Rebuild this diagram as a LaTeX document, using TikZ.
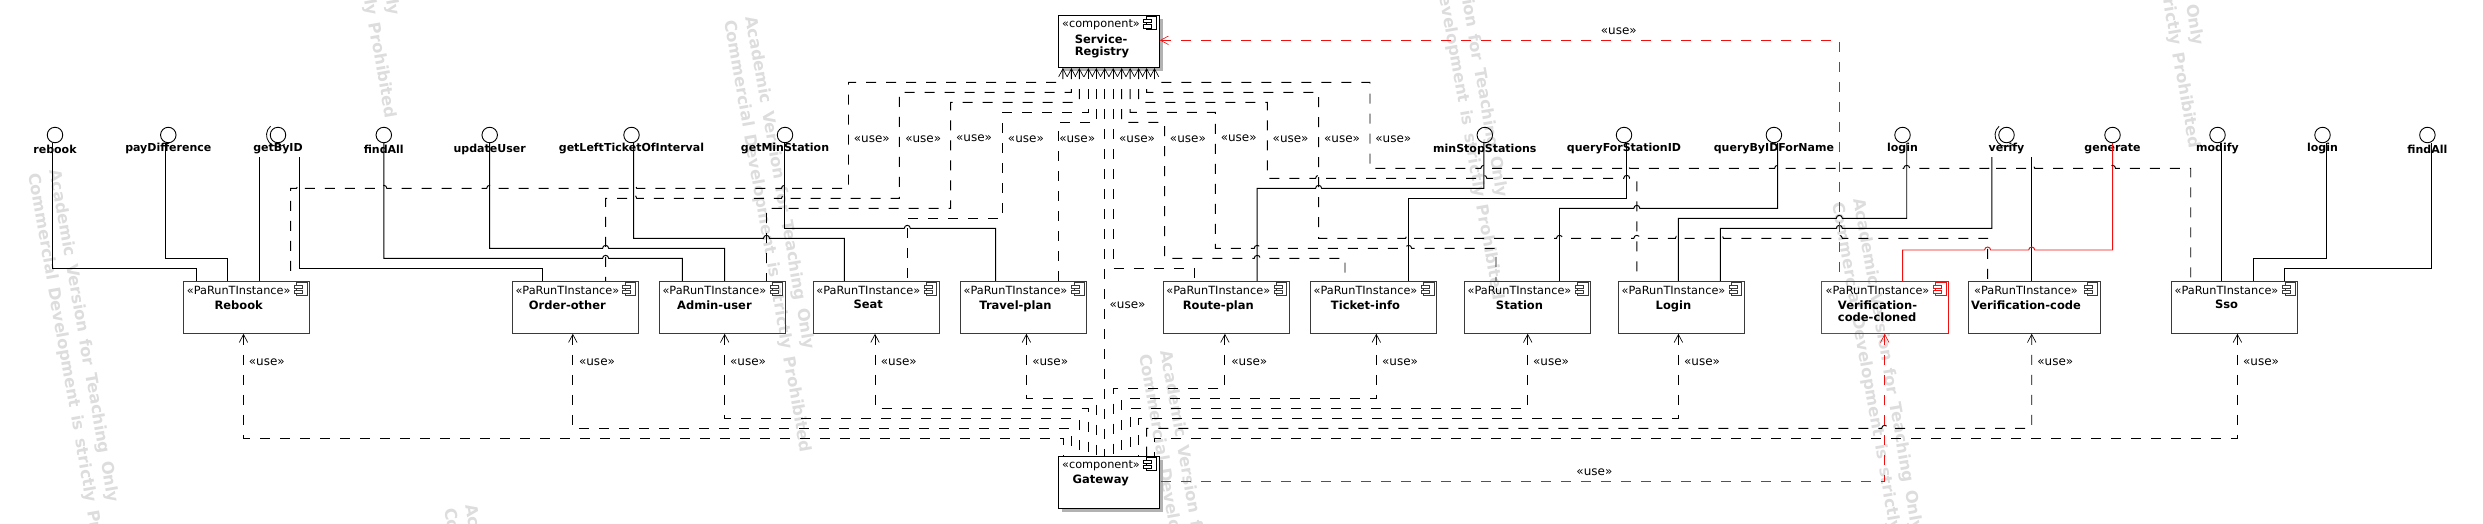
\documentclass[tikz,border=0pt]{standalone}
\usepackage{fontspec}
\setmainfont{DejaVu Sans}
\newfontfamily\wmfont[WordSpace=1.4]{DejaVu Sans}
\usetikzlibrary{arrows.meta,positioning}
\definecolor{wmgray}{HTML}{DDDDDD}
\definecolor{boxgray}{HTML}{3A3A3A}
\definecolor{umlred}{HTML}{F01010}
\tikzset{
  x=1pt,y=-1pt,
  solidlink/.style={line width=.95pt,black},
  redlink/.style={line width=.95pt,umlred},
  dep/.style={line width=.95pt,black,dash pattern=on 10pt off 10pt,{Straight Barb[length=8pt,width=8.5pt,line width=.65pt]}-},
  depred/.style={dep,umlred},
  usetag/.style={font=\fontsize{12}{13}\selectfont,inner sep=0pt},
  ifcircle/.style={circle,draw=black,line width=.9pt,minimum size=15.5pt,inner sep=0pt},
  iflabel/.style={font=\fontsize{11}{12}\selectfont\bfseries,inner sep=0pt},
  partbox/.style={rectangle,draw=#1,line width=1pt,inner sep=0pt,minimum height=52pt},
  partbox/.default=boxgray,
  compbox/.style={rectangle,draw=black,fill=white,line width=1.1pt,inner sep=0pt,minimum width=100.6pt,minimum height=52pt},
  stereo/.style={font=\fontsize{11.3}{12}\selectfont,inner sep=0pt},
  boxname/.style={font=\fontsize{11.5}{12}\selectfont\bfseries,inner sep=0pt,align=left},
  wmark/.style={font=\wmfont\fontsize{16.3}{21.5}\selectfont\bfseries,text=wmgray,inner sep=0pt,rotate=-80,anchor=north west,align=left},
}
% hops over crossed lines
\def\hopr#1#2{-- ({#1-3},#2) arc[start angle=180,end angle=0,radius=3pt]}
\def\hopl#1#2{-- ({#1+3},#2) arc[start angle=0,end angle=180,radius=3pt]}
% component icon, relative to the box's north east corner
\newcommand\compicon[2]{%
  \draw[#2,line width=.9pt] ([shift={(-13.3,1.2)}]#1.north east) rectangle ([shift={(-3.2,14.3)}]#1.north east);
  \draw[#2,line width=.9pt,fill=white] ([shift={(-16,4.2)}]#1.north east) rectangle ([shift={(-8,7.8)}]#1.north east);
  \draw[#2,line width=.9pt,fill=white] ([shift={(-16,9.4)}]#1.north east) rectangle ([shift={(-8,13)}]#1.north east);
}
% name, left, right, text centre, label, colour
\newcommand\partnode[6]{%
  \pgfmathsetmacro\pbw{#3-#2}
  \node[partbox=#6,minimum width=\pbw pt] (#1) at ({(#2+#3)/2},307.3) {};
  \node[stereo] (#1st) at (#4,290.5) {«PaRunTInstance»};
  \node[boxname,anchor=north] (#1nm) at (#4,300.2) {#5};
  \compicon{#1}{#6}
}
% name, circle x, label
\newcommand\iface[3]{%
  \node[ifcircle] (#1) at (#2,135) {};
  \node[iflabel] (#1lb) at (#2,149) {#3};
}
\newcommand\watermark[3]{%
  \node[wmark] (#1) at (#2,#3) {Academic Version for Teaching Only\\Commercial Development is strictly Prohibited};
}
\begin{document}
\begin{tikzpicture}
\useasboundingbox (0,0) rectangle (2483,523);
% watermarks
\watermark{wmA}{62}{168}
\watermark{wmB}{758}{15}
\watermark{wmC}{1173}{349}
\watermark{wmD}{1866}{197}
\watermark{wmE}{2147}{-289}
\watermark{wmF}{1451}{-137}
\watermark{wmG}{343}{-319}
\watermark{wmH}{478}{503}

% components
\fill[gray!60] (1061.7,18.6) rectangle (1162.6,70.6);
\node[compbox] (SR) at (1108.9,41.5) {};
\node[stereo] (SRst) at (1101,25) {«component»};
\node[boxname,anchor=north west] (SRnm) at (1074.6,34.6) {Service-\\Registry};
\compicon{SR}{black}
\fill[gray!60] (1061.7,459.6) rectangle (1162.6,511.6);
\node[compbox] (GW) at (1108.9,482.3) {};
\node[stereo] (GWst) at (1101,465.7) {«component»};
\node[boxname,anchor=north west] (GWnm) at (1072.5,475.2) {Gateway};
\compicon{GW}{black}

% parts
\partnode{Rebook}{183.7}{309.7}{238.7}{Rebook}{boxgray}
\partnode{Order}{512.4}{638.4}{567.4}{Order-other}{boxgray}
\partnode{Admin}{659.6}{785.6}{714.4}{Admin-user}{boxgray}
\partnode{Seat}{813}{939.6}{868.3}{Seat}{boxgray}
\partnode{Travel}{960.8}{1086.8}{1015.5}{Travel-plan}{boxgray}
\partnode{Route}{1163.5}{1289.5}{1218.3}{Route-plan}{boxgray}
\partnode{Ticket}{1310.7}{1436.7}{1365.5}{Ticket-info}{boxgray}
\partnode{Station}{1464.7}{1590.7}{1519.5}{Station}{boxgray}
\partnode{Login}{1618.8}{1744.5}{1673.5}{Login}{boxgray}
\partnode{Cloned}{1821.7}{1948.7}{1877.5}{Verification-\\code-cloned}{umlred}
\partnode{Vcode}{1968.7}{2100.4}{2026}{Verification-code}{boxgray}
\partnode{Sso}{2171.8}{2297.8}{2226.5}{Sso}{boxgray}

% interfaces
\iface{iRebook}{55}{rebook}
\iface{iPay}{168.3}{payDifference}
\iface{iGetById}{278}{getByID}
\iface{iFindA}{383.8}{findAll}
\iface{iUpdate}{489.7}{updateUser}
\iface{iLeft}{631.5}{getLeftTicketOfInterval}
\iface{iMin}{785}{getMinStation}
\iface{iStop}{1484.8}{minStopStations}
\iface{iQfs}{1624}{queryForStationID}
\iface{iQbn}{1773.9}{queryByIDForName}
\iface{iLoginA}{1902.5}{login}
\iface{iVerify}{2006.5}{verify}
\iface{iGen}{2112.5}{generate}
\iface{iModify}{2217.5}{modify}
\iface{iLoginB}{2322.5}{login}
\iface{iFindB}{2427.4}{findAll}
\draw[line width=.8pt] (iGetById) ++(130:11.5pt) arc[start angle=130,end angle=305,radius=11.5pt];
\draw[line width=.8pt] (iVerify) ++(130:11.5pt) arc[start angle=130,end angle=305,radius=11.5pt];
\coordinate (sockA) at (259.4,157);
\coordinate (sockB) at (299.6,157);
\coordinate (sockC) at (1991.8,157);
\coordinate (sockD) at (2031.7,157);

% provided / required interface links
\draw[solidlink] (52.4,0 |- iRebook.south) -- (52.4,268.3) -- (196.4,268.3) -- (196.4,0 |- Rebook.north);
\draw[solidlink] (165.7,0 |- iPay.south) -- (165.7,258.3) -- (227.6,258.3) -- (227.6,0 |- Rebook.north);
\draw[solidlink] (sockA) -- (sockA |- Rebook.north);
\draw[solidlink] (sockB) -- (299.6,268.3) -- (542.6,268.3) -- (542.6,0 |- Order.north);
\draw[solidlink] (iFindA.south) -- (383.8,258.3) \hopr{605.6}{258.3} -- (682.4,258.3) -- (682.4,0 |- Admin.north);
\draw[solidlink] (iUpdate.south) -- (489.7,248.3) \hopr{605.6}{248.3} -- (724.7,248.3) -- (724.7,0 |- Admin.north);
\draw[solidlink] (633.7,0 |- iLeft.south) -- (633.7,238.3) \hopr{766.5}{238.3} -- (844.3,238.3) -- (844.3,0 |- Seat.north);
\draw[solidlink] (784.5,0 |- iMin.south) -- (784.5,228.3) \hopr{907.3}{228.3} -- (995.7,228.3) -- (995.7,0 |- Travel.north);
\draw[solidlink] (1483.8,0 |- iStop.south) -- (1483.8,188.3) \hopl{1318.6}{188.3} -- (1257.2,188.3) -- (1257.2,0 |- Route.north);
\draw[solidlink] (1626.7,0 |- iQfs.south) -- (1626.7,198.3) -- (1408.6,198.3) -- (1408.6,0 |- Ticket.north);
\draw[solidlink] (1777.6,0 |- iQbn.south) -- (1777.6,208.3) \hopl{1636.8}{208.3} -- (1559.5,208.3) -- (1559.5,0 |- Station.north);
\draw[solidlink] (1906.7,0 |- iLoginA.south) -- (1906.7,218.3) \hopl{1839.3}{218.3} -- (1678.4,218.3) -- (1678.4,0 |- Login.north);
\draw[solidlink] (sockC) -- (1991.8,228.3) \hopl{1839.3}{228.3} -- (1720.4,228.3) -- (1720.4,0 |- Login.north);
\draw[solidlink] (sockD) -- (sockD |- Vcode.north);
\draw[redlink] (iGen.south) -- (2112.5,250) \hopl{2031.7}{250} \hopl{1987.6}{250} -- (1902.5,250) -- (1902.5,0 |- Cloned.north);
\draw[solidlink] (2221.7,0 |- iModify.south) -- (2221.7,0 |- Sso.north);
\draw[solidlink] (2326.7,0 |- iLoginB.south) -- (2326.7,258.3) -- (2253.7,258.3) -- (2253.7,0 |- Sso.north);
\draw[solidlink] (2431.7,0 |- iFindB.south) -- (2431.7,268.3) -- (2284.7,268.3) -- (2284.7,0 |- Sso.north);

% parts use Service-Registry (each dash pattern runs from the arrow end)
\draw[dep] (1062.9,0 |- SR.south) -- (1062.9,82.3) -- (848.5,82.3) -- (848.5,188.3) \hopl{784.5}{188.3} \hopl{633.7}{188.3} \hopl{489.7}{188.3} \hopl{383.8}{188.3} \hopl{299.6}{188.3} -- (290.6,188.3) -- (290.6,0 |- Rebook.north);
\draw[dep] (1071.4,0 |- SR.south) -- (1071.4,92.3) -- (899.3,92.3) -- (899.3,198.3) \hopl{784.5}{198.3} \hopl{633.7}{198.3} -- (605.6,198.3) -- (605.6,0 |- Order.north);
\draw[dep] (1079.3,0 |- SR.south) -- (1079.3,102.3) -- (950.7,102.3) -- (950.7,208.3) \hopl{784.5}{208.3} -- (766.5,208.3) -- (766.5,0 |- Admin.north);
\draw[dep] (1088.3,0 |- SR.south) -- (1088.3,112.3) -- (1002.6,112.3) -- (1002.6,218.3) -- (907.3,218.3) -- (907.3,0 |- Seat.north);
\draw[dep] (1096.3,0 |- SR.south) -- (1096.3,122.3) -- (1058.7,122.3) -- (1058.7,0 |- Travel.north);
\draw[dep] (1104.7,0 |- SR.south) -- (1104.7,0 |- GW.north);
\draw[dep] (1113.2,0 |- SR.south) -- (1113.2,268.3) -- (1194.7,268.3) -- (1194.7,0 |- Route.north);
\draw[dep] (1121.7,0 |- SR.south) -- (1121.7,122.3) -- (1164.6,122.3) -- (1164.6,258.3) \hopr{1257.2}{258.3} -- (1345,258.3) -- (1345,0 |- Ticket.north);
\draw[dep] (1130.2,0 |- SR.south) -- (1130.2,112.3) -- (1215.4,112.3) -- (1215.4,248.3) \hopr{1257.2}{248.3} \hopr{1408.6}{248.3} -- (1496,248.3) -- (1496,0 |- Station.north);
\draw[dep] (1138.6,0 |- SR.south) -- (1138.6,102.3) -- (1267.3,102.3) -- (1267.3,178.3) \hopr{1318.6}{178.3} \hopr{1483.8}{178.3} \hopr{1626.7}{178.3} -- (1636.8,178.3) -- (1636.8,0 |- Login.north);
\draw[dep] (1146.6,0 |- SR.south) -- (1146.6,92.3) -- (1318.6,92.3) -- (1318.6,238.3) \hopr{1408.6}{238.3} \hopr{1559.5}{238.3} \hopr{1636.8}{238.3} \hopr{1678.4}{238.3} \hopr{1720.4}{238.3} \hopr{1839.3}{238.3} -- (1987.6,238.3) -- (1987.6,0 |- Vcode.north);
\draw[dep] (1154.5,0 |- SR.south) -- (1154.5,82.3) -- (1370,82.3) -- (1370,168.3) \hopr{1483.8}{168.3} \hopr{1626.7}{168.3} \hopr{1777.6}{168.3} \hopr{1839.3}{168.3} \hopr{1906.7}{168.3} \hopr{1991.8}{168.3} \hopr{2031.7}{168.3} \hopr{2112.5}{168.3} -- (2190.7,168.3) -- (2190.7,0 |- Sso.north);
\draw[depred] (SR.east |- 0,40.3) -- (1839.3,40.3) -- (1839.3,0 |- Cloned.north);

% Gateway uses parts
\draw[dep] (243.5,0 |- Rebook.south) -- (243.5,438.3) -- (1063.5,438.3) -- (1063.5,0 |- GW.north);
\draw[dep] (572.8,0 |- Order.south) -- (572.8,428.3) -- (1071.4,428.3) -- (1071.4,0 |- GW.north);
\draw[dep] (724.7,0 |- Admin.south) -- (724.7,418.3) -- (1079.3,418.3) -- (1079.3,0 |- GW.north);
\draw[dep] (875,0 |- Seat.south) -- (875,408.3) -- (1088.3,408.3) -- (1088.3,0 |- GW.north);
\draw[dep] (1026.4,0 |- Travel.south) -- (1026.4,398.3) -- (1096.3,398.3) -- (1096.3,0 |- GW.north);
\draw[dep] (1224.9,0 |- Route.south) -- (1224.9,388.3) -- (1113.7,388.3) -- (1113.7,0 |- GW.north);
\draw[dep] (1376.3,0 |- Ticket.south) -- (1376.3,398.3) -- (1121.7,398.3) -- (1121.7,0 |- GW.north);
\draw[dep] (1527.7,0 |- Station.south) -- (1527.7,408.3) -- (1130.2,408.3) -- (1130.2,0 |- GW.north);
\draw[dep] (1678.4,0 |- Login.south) -- (1678.4,418.3) -- (1138.6,418.3) -- (1138.6,0 |- GW.north);
\draw[dep] (2031.7,0 |- Vcode.south) -- (2031.7,428.3) \hopl{1884.7}{428.3} -- (1146.6,428.3) -- (1146.6,0 |- GW.north);
\draw[dep] (2237.4,0 |- Sso.south) -- (2237.4,438.3) -- (1154.5,438.3) -- (1154.5,0 |- GW.north);
\draw[depred] (1884.7,0 |- Cloned.south) -- (1884.7,481) -- (GW.east |- 0,481);

% stereotype labels on the links
\node[usetag] (u01) at (871.8,139) {«use»};
\node[usetag] (u02) at (923.2,139) {«use»};
\node[usetag] (u03) at (974,138) {«use»};
\node[usetag] (u04) at (1025.9,139) {«use»};
\node[usetag] (u05) at (1077.2,139) {«use»};
\node[usetag] (u06) at (1137,139) {«use»};
\node[usetag] (u07) at (1187.9,139) {«use»};
\node[usetag] (u08) at (1238.7,138) {«use»};
\node[usetag] (u09) at (1290.6,139) {«use»};
\node[usetag] (u10) at (1342,139) {«use»};
\node[usetag] (u11) at (1393.3,139) {«use»};
\node[usetag] (u12) at (1618.8,31) {«use»};
\node[usetag] (u13) at (1127.5,305) {«use»};
\node[usetag] (u14) at (1594.4,472) {«use»};
\node[usetag] (b01) at (266.8,362) {«use»};
\node[usetag] (b02) at (597,362) {«use»};
\node[usetag] (b03) at (748,362) {«use»};
\node[usetag] (b04) at (898.8,362) {«use»};
\node[usetag] (b05) at (1050.2,362) {«use»};
\node[usetag] (b06) at (1249.3,362) {«use»};
\node[usetag] (b07) at (1400,362) {«use»};
\node[usetag] (b08) at (1551,362) {«use»};
\node[usetag] (b09) at (1702,362) {«use»};
\node[usetag] (b10) at (2055.3,362) {«use»};
\node[usetag] (b11) at (2261,362) {«use»};
\end{tikzpicture}
\end{document}
